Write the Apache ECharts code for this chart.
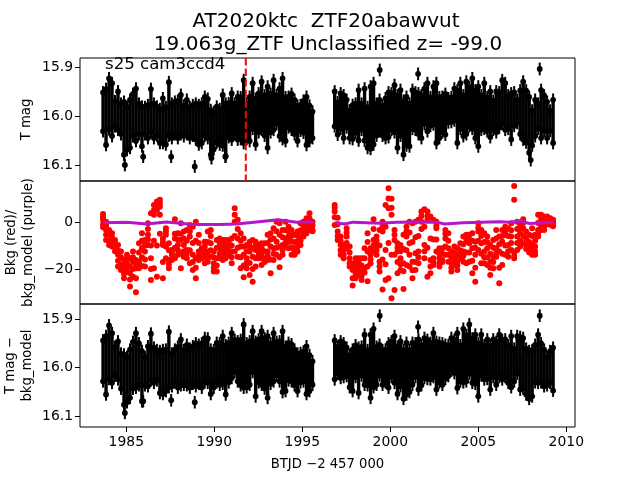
<!DOCTYPE html>
<html><head><meta charset="utf-8">
<style>html,body{margin:0;padding:0;background:#fff}#c{width:640px;height:480px}</style>
<script src="https://cdn.jsdelivr.net/npm/echarts@6/dist/echarts.min.js"></script>
</head><body><div id="c"></div>
<script>
const btjd=[1983.68,1983.85,1984.02,1984.19,1984.36,1984.53,1984.70,1984.87,1985.04,1985.21,1985.38,1985.55,1985.72,1985.89,1986.06,1986.23,1986.40,1986.57,1986.74,1986.91,1987.08,1987.25,1987.42,1987.59,1987.76,1987.93,1988.10,1988.27,1988.44,1988.61,1988.78,1988.95,1989.12,1989.29,1989.46,1989.63,1989.80,1989.97,1990.14,1990.31,1990.48,1990.65,1990.82,1990.99,1991.16,1991.33,1991.50,1991.67,1991.84,1992.01,1992.18,1992.35,1992.52,1992.69,1992.86,1993.03,1993.20,1993.37,1993.54,1993.71,1993.88,1994.05,1994.22,1994.39,1994.56,1994.73,1994.90,1995.07,1995.24,1995.41,1995.58,
1996.84,1997.01,1997.18,1997.35,1997.52,1997.69,1997.86,1998.03,1998.20,1998.37,1998.54,1998.71,1998.88,1999.05,1999.22,1999.39,1999.56,1999.73,1999.90,2000.07,2000.24,2000.41,2000.58,2000.75,2000.92,2001.09,2001.26,2001.43,2001.60,2001.77,2001.94,2002.11,2002.28,2002.45,2002.62,2002.79,2002.96,2003.13,2003.30,2003.47,2003.64,2003.81,2003.98,2004.15,2004.32,2004.49,2004.66,2004.83,2005.00,2005.17,2005.34,2005.51,2005.68,2005.85,2006.02,2006.19,2006.36,2006.53,2006.70,2006.87,2007.04,2007.21,2007.38,2007.55,2007.72,2007.89,2008.06,2008.23,2008.40,2008.57,2008.74,2008.91,2009.08,2009.25];
const tMagHigh=[15.952,15.945,15.923,15.933,15.970,15.950,15.975,15.971,15.982,15.967,15.955,15.944,15.975,15.981,15.982,15.978,15.945,15.975,15.981,15.986,15.964,15.982,15.931,15.975,15.971,15.969,15.957,15.979,15.967,15.982,15.978,15.975,15.978,15.975,15.961,15.965,15.988,15.992,15.981,15.986,15.957,15.975,15.974,15.954,15.975,15.961,15.962,15.927,15.975,15.961,15.933,15.965,15.954,15.930,15.958,15.940,15.955,15.927,15.958,15.944,15.923,15.962,15.961,15.955,15.967,15.979,15.978,15.969,15.961,15.979,15.991,
15.950,15.972,15.954,15.958,15.967,15.989,15.978,15.975,15.947,15.975,15.944,15.982,15.940,15.933,15.975,15.967,15.979,15.964,15.952,15.954,15.937,15.958,15.947,15.969,15.961,15.975,15.947,15.952,15.954,15.958,15.944,15.933,15.962,15.940,15.933,15.962,15.961,15.955,15.964,15.962,15.944,15.948,15.933,15.958,15.930,15.941,15.923,15.948,15.940,15.958,15.933,15.962,15.950,15.969,15.950,15.952,15.927,15.933,15.958,15.954,15.952,15.967,15.948,15.930,15.948,15.961,15.989,15.967,15.975,15.947,15.958,15.971,15.989,15.967];
const tMagLow=[16.031,16.059,16.027,16.041,16.021,16.028,16.037,16.079,16.069,16.065,16.041,16.051,16.037,16.062,16.037,16.045,16.033,16.045,16.040,16.055,16.055,16.058,16.040,16.045,16.037,16.045,16.037,16.041,16.037,16.045,16.040,16.048,16.058,16.055,16.040,16.045,16.079,16.068,16.054,16.058,16.060,16.082,16.043,16.048,16.037,16.048,16.047,16.055,16.047,16.051,16.026,16.058,16.033,16.028,16.040,16.065,16.033,16.028,16.016,16.041,16.047,16.051,16.023,16.028,16.037,16.051,16.030,16.034,16.059,16.051,16.045,
16.021,16.038,16.026,16.045,16.023,16.045,16.047,16.034,16.050,16.028,16.050,16.065,16.067,16.058,16.040,16.031,16.040,16.045,16.043,16.028,16.033,16.065,16.040,16.079,16.060,16.062,16.026,16.028,16.037,16.045,16.016,16.031,16.020,16.017,16.055,16.045,16.033,16.038,16.013,16.012,16.009,16.055,16.026,16.041,16.037,16.021,16.026,16.045,16.062,16.028,16.026,16.031,16.043,16.028,16.033,16.024,16.016,16.028,16.026,16.048,16.020,16.014,16.037,16.048,16.054,16.075,16.060,16.041,16.026,16.045,16.030,16.045,16.030,16.055];
const tMagSoloTime=[1984.92,1985.96,1987.55,1988.89,1989.84,1990.63,1999.40,2001.58,2008.49,2007.98];
const tMagSolo=[16.100,16.083,16.083,16.103,16.086,16.083,15.906,15.914,15.904,16.090];
const detHigh=[15.944,15.935,15.913,15.929,15.957,15.946,15.971,15.973,15.978,15.963,15.947,15.929,15.950,15.966,15.978,15.956,15.930,15.959,15.964,15.966,15.964,15.963,15.926,15.971,15.963,15.957,15.942,15.964,15.953,15.961,15.956,15.950,15.953,15.950,15.939,15.940,15.963,15.964,15.949,15.950,15.935,15.954,15.949,15.929,15.943,15.946,15.943,15.911,15.950,15.946,15.925,15.947,15.942,15.925,15.940,15.935,15.950,15.929,15.947,15.946,15.925,15.957,15.949,15.952,15.963,15.971,15.970,15.967,15.956,15.974,15.987,
15.944,15.957,15.946,15.950,15.959,15.974,15.963,15.954,15.959,15.957,15.932,15.964,15.932,15.920,15.957,15.953,15.964,15.963,15.950,15.946,15.935,15.957,15.946,15.964,15.949,15.964,15.949,15.950,15.942,15.954,15.939,15.943,15.949,15.929,15.947,15.949,15.950,15.953,15.954,15.939,15.943,15.929,15.954,15.920,15.933,15.911,15.940,15.932,15.950,15.932,15.954,15.942,15.954,15.942,15.947,15.932,15.943,15.942,15.954,15.935,15.961,15.935,15.937,15.939,15.961,15.966,15.964,15.953,15.932,15.950,15.963,15.978,15.966,15.959];
const detLow=[16.028,16.055,16.023,16.031,16.016,16.024,16.043,16.076,16.071,16.062,16.043,16.041,16.036,16.069,16.036,16.038,16.026,16.031,16.026,16.052,16.054,16.048,16.040,16.038,16.030,16.041,16.036,16.035,16.036,16.041,16.033,16.038,16.033,16.041,16.030,16.031,16.054,16.041,16.030,16.035,16.033,16.055,16.030,16.021,16.009,16.028,16.036,16.041,16.040,16.035,16.009,16.059,16.030,16.035,16.043,16.062,16.033,16.028,16.016,16.028,16.050,16.048,16.026,16.028,16.036,16.048,16.030,16.028,16.054,16.048,16.035,
16.024,16.012,16.021,16.019,16.017,16.040,16.048,16.019,16.052,16.016,16.035,16.036,16.062,16.040,16.035,16.016,16.035,16.030,16.041,16.019,16.031,16.054,16.038,16.064,16.055,16.050,16.035,16.019,16.045,16.036,16.021,16.023,16.024,16.019,16.045,16.030,16.035,16.023,16.017,16.006,16.011,16.042,16.028,16.030,16.028,16.012,16.031,16.033,16.059,16.016,16.024,16.023,16.045,16.019,16.035,16.019,16.024,16.019,16.031,16.040,16.028,16.012,16.045,16.043,16.055,16.064,16.059,16.030,16.031,16.030,16.038,16.036,16.031,16.047];
const detSoloTime=[1984.92,1985.96,1987.55,1988.89,1999.40,2001.58,2008.49];
const detSolo=[16.093,16.069,16.067,16.071,15.893,15.916,15.893];
const bkgUpper=[3.4,.1,-3.4,-4.8,-7.7,-9.8,-12.6,-16.2,-14,-15.5,-12.6,-16.2,-9.1,-4.8,-7.7,-.6,3.7,7.2,8.7,9.4,-7,-2.7,-9.1,-11.9,1.1,-4.8,-.6,-4.1,-3.4,-1.3,-2,.1,-5.5,-11.2,-8.4,-4.1,-3.4,-12.6,-7.7,-7,-7.7,-7.7,-7.7,-7,5.8,.9,-4.8,-7,-9.8,-8.4,-7.7,-8.4,-9.8,-9.1,-9.1,-5.5,-4.8,-2.7,.1,-.6,-3.4,.1,-2,-3.4,-5.5,-4.1,-.6,.1,1.6,3.7,.1,
7.2,1.8,-6.2,-9.8,-2.7,-10.5,-17.6,-15.5,-15.5,-15.5,-11.2,-4.8,-11.2,1.1,-6.2,-3.4,.1,7.2,14.3,9.8,-3.4,-9.1,-9.8,-5.5,-2,.1,-.6,.1,.9,4.4,5.4,4.4,2.3,.9,.1,-11.2,-11.2,-3.4,-4.8,-12.6,-10.5,-11.2,-9.1,-6.2,-5.5,-5.5,-4.8,-8.4,-.6,-3.4,-4.8,-6.2,-9.8,-7.7,-3.4,-6.2,-3.4,-2,-2.7,-.6,15.3,.1,-1.3,1.1,-4.1,-5.5,-2.7,-5.5,3,3,2.3,2.3,1.6,.9];
const bkgCoreA=[2,-1.5,-4.5,-6.5,-9,-12,-15,-18,-15.5,-19,-15,-18,-13,-8,-10,-3,-10,5,7,8,-8.5,-4,-12,-14,-5,-7.5,-5,-7,-8,-4,-9,-8,-9,-13,-10.5,-8.5,-6,-15,-11,-9,-10,-9.5,-9,-10,3,-3,-8,-10.5,-12.5,-10.5,-11,-10,-12,-11,-12.5,-9,-7.5,-7,-4,-5.5,-6.5,-3.5,-4,-6,-8.5,-6,-3.5,-1.5,0,1.5,-1.5,
6,-1,-8,-12,-4.5,-13,-19,-17.5,-17,-18.5,-15.5,-8.5,-12.5,-3,-8,-10,-2,-2,10,6,-5.5,-11,-12.5,-11.5,-4,-4.5,-8.5,-6.5,-6,2.5,-2,2.5,-7,-7.5,-1.5,-13.5,-13.5,-5,-8,-15,-13,-14,-12,-9.5,-7,-7.5,-8,-11,-2.5,-6,-8.5,-8.5,-13.5,-11,-7,-9.5,-6,-4,-6,-3.5,-13,-3,-3,-.5,-7,-8.5,-6,-8,-.5,1.5,1,1.2,.5,0];
const bkgMiddle=[.9,-3.4,-5.5,-7.7,-10.5,-14,-18.3,-19.7,-17.6,-21.8,-16.9,-19.7,-16.9,-11.2,-12.6,-5.5,-15.5,3,5.1,6.5,-9.8,-5.5,-16.2,-16.2,-7,-9.8,-7.7,-9.8,-11.9,-6.2,-14,-15.5,-12.6,-15.5,-12.6,-12.6,-9.1,-17.6,-15.5,-11.2,-12.6,-11.2,-10.5,-12.6,.1,-7,-10.5,-14,-15.5,-12.6,-14.8,-11.9,-14,-13.3,-15.5,-12.6,-10.5,-11.2,-8.4,-10.5,-9.8,-7,-6.2,-8.4,-11.2,-8.4,-6.2,-2.7,-2,-.6,-3.4,
4.4,-4.1,-9.8,-14,-6.2,-15.5,-20.4,-19.7,-19,-21.1,-19.7,-12.6,-14,-7.7,-9.8,-16.9,-4.1,-11.9,5.8,3,-7.7,-12.6,-15.5,-17.6,-6.2,-9.1,-16.9,-13.3,-12.6,.1,-9.8,.9,-16.2,-15.5,-2.7,-15.5,-16.2,-7,-11.2,-17.6,-15.5,-16.9,-15.5,-12.6,-8.4,-9.1,-11.2,-14,-4.1,-9.1,-12.6,-11.2,-16.9,-14.8,-11.2,-12.6,-8.4,-5.5,-9.8,-6.2,9.4,-6.2,-4.8,-2.7,-9.8,-11.2,-9.8,-10.5,-3.4,.1,-.6,.1,-.6,-1.3];
const bkgCoreB=[-1,-5.5,-8,-9,-12.5,-16.5,-19.5,-22,-19.5,-24.5,-20,-24,-18,-15,-16,-7.5,-20,-8,-10,-5,-17,-10.5,-18,-13,-11,-12,-13.5,-12.5,-13.5,-12,-17,-19.5,-14.5,-14,-15,-14.5,-12,-19.5,-18.5,-13.5,-14.5,-13.5,-12.5,-15,-6,-11,-15,-18.5,-17.5,-17.5,-20,-15.5,-15.5,-15.5,-17,-14.5,-16,-13.5,-11,-15,-12,-9,-8.5,-11,-12.5,-10.5,-8,-4.5,-3.5,-2,-4,
2,-6,-12,-15.5,-9,-17.5,-24,-22,-21,-23,-21.5,-19,-16,-10,-12,-19,-16,-18,-9,-14,-14,-17,-18,-21,-12,-14,-20.5,-17,-15,-3,-12.5,-11,-19,-17,-7.5,-17.5,-17,-10.5,-14,-19.5,-17,-18.5,-14,-14.5,-13,-13,-16.5,-19.5,-8,-13.5,-15,-15,-19.5,-17,-13,-19.5,-13.5,-10,-12.5,-9,-14.5,-9,-8,-6,-11.5,-13,-12,-12.5,-5,-1.8,-2,-1,-1.2,-1.8];
const bkgLower=[-2.3,-7.7,-9.8,-10.5,null,-19,-20.4,-24,-21.1,-27.5,-23.3,-29.9,-19.7,-18.7,-19,-9.8,-24.7,-19.7,-23.3,3,-24,-15.5,-19.7,null,-15.5,-14,-19.7,-14.8,-15.5,-17.6,-20.4,-24,-16.2,null,-17.6,-16.9,-14.8,-21.1,-21.1,-15.5,-16.2,-15.5,-14,-17.6,-12.6,-14.8,-19.7,-23.5,-19.7,-22.6,-25.4,-19,null,-18.3,null,-16.2,-21.8,-16.2,-14,-19.3,-14,-10.5,-11.2,-14,-14,-12.6,-9.8,-6.2,-4.8,-3.4,null,
-1.3,-7.7,-14,null,-11.2,-19,-27,-24,-22.6,-24.7,null,-25.2,-17.6,-12.6,-14,-21.1,-28.7,-24.7,-24,-32.5,-28.9,-21.8,-20.4,-28.5,-18.3,-19,-24,-20.4,-17.6,null,-15.5,-23.3,-21.8,-18.3,-12.6,-19,null,-14,-16.9,-21.1,-18.3,-20.4,null,-16.9,-17.6,-16.9,-21.8,-25.4,-11.9,-17.6,-17.6,-18.3,-22.6,-19.7,-14.8,-26.1,-18.3,-14,-14.8,-11.9,-15.5,-11.9,-10.5,-9.1,null,null,-14,-14,-6.2,-3.4,-3.4,null,null,null];
const modelTime=[1983.68,1985.01,1986.15,1987.28,1988.80,1990.31,1991.26,1992.40,1993.63,1994.67,1995.62,null,1996.84,1997.41,1997.89,1999.40,2000.35,2001.67,2002.62,2003.09,2004.14,2006.22,2006.79,2007.36,2007.92,2009.25];
const modelValue=[-.3,-.1,-.9,0,-1.1,-1.1,-.9,0,.9,-.1,0,null,-.3,-.9,-.1,-.6,-.1,0,-.1,-.9,-.4,.1,-.1,.4,-.7,-.1];
const eventTime=[1991.79];
const xTicks=[1985,1990,1995,2000,2005,2010];
const magTicks=[15.9,16.0,16.1];
const bkgTicks=[0,-20];
const titleLines=['AT2020ktc  ZTF20abawvut','19.063g_ZTF Unclassified z= -99.0'];
const sectorLabel='s25 cam3ccd4';
const xLabel='BTJD −2 457 000';
const yLabels=['T mag','Bkg (red)/\nbkg_model (purple)','T mag −\nbkg_model'];

const FONT='DejaVu Sans', ERR=0.013;
const chart=echarts.init(document.getElementById('c'),null,{renderer:'canvas'});
const G={left:80,width:495,height:123,containLabel:false,outerBoundsMode:'none'};
const grids=[58,181,304].map(top=>({...G,top,show:true,borderColor:'#000',borderWidth:1,backgroundColor:'transparent'}));
const fmt=d=>v=>String(v).replace('-','−');
const xAxes=[0,1,2].map(i=>({type:'value',gridIndex:i,min:1982.37,max:2010.495,nameMoveOverlap:false,
  splitLine:{show:false},axisLine:{show:false},
  axisTick:{show:i===2,length:5,customValues:xTicks,lineStyle:{color:'#000',width:1}},
  axisLabel:{show:i===2,customValues:xTicks,formatter:v=>String(v),color:'#000',fontFamily:FONT,fontSize:13.9,margin:8},
  name:i===2?xLabel:'',nameLocation:'middle',nameGap:31,nameTextStyle:{color:'#000',fontFamily:FONT,fontSize:13.2}}));
const yAxis=(i,min,max,ticks,inverse,gap,f)=>({type:'value',gridIndex:i,min,max,inverse,nameMoveOverlap:false,
  splitLine:{show:false},axisLine:{show:false},
  axisTick:{show:true,length:5,customValues:ticks,lineStyle:{color:'#000',width:1}},
  axisLabel:{customValues:ticks,formatter:f,color:'#000',fontFamily:FONT,fontSize:13.9,margin:7,padding:[3,0,0,0]},
  name:yLabels[i],nameLocation:'middle',nameRotate:90,nameGap:gap,nameTextStyle:{color:'#000',fontFamily:FONT,fontSize:13.2,lineHeight:17}});
const yAxes=[
  yAxis(0,15.8816,16.1327,magTicks,true,45,v=>v.toFixed(1)),
  yAxis(1,-34.9,17.4,bkgTicks,false,43,fmt()),
  yAxis(2,15.869,16.122,magTicks,true,44,v=>v.toFixed(1))];
function dotWithBar(api,t,y){
  const p=api.coord([t,y]),a=api.coord([t,y-ERR]),b=api.coord([t,y+ERR]);
  return [{type:'circle',shape:{cx:p[0],cy:p[1],r:2.9},style:{fill:'#000'}},
    {type:'line',shape:{x1:p[0],y1:a[1],x2:p[0],y2:b[1]},style:{stroke:'#000',lineWidth:2}}];
}
const massSeries=(i,hi,lo)=>({type:'custom',xAxisIndex:i,yAxisIndex:i,silent:true,animation:false,
  data:btjd.map((t,k)=>[t,hi[k],lo[k]]),
  encode:{x:0,y:[1,2]},
  renderItem:(p,api)=>{
    const t=api.value(0),h=api.value(1),l=api.value(2);
    const a=api.coord([t,h]),b=api.coord([t,l]);
    return {type:'group',children:[
      {type:'line',shape:{x1:a[0],y1:a[1],x2:b[0],y2:b[1]},style:{stroke:'#000',lineWidth:3.4}},
      ...dotWithBar(api,t,h),...dotWithBar(api,t,l)]};
  }});
const soloSeries=(i,ts,ys)=>({type:'custom',xAxisIndex:i,yAxisIndex:i,silent:true,animation:false,
  data:ts.map((t,k)=>[t,ys[k]]),encode:{x:0,y:1},
  renderItem:(p,api)=>({type:'group',children:dotWithBar(api,api.value(0),api.value(1))})});
const redPoints=[];
btjd.forEach((t,k)=>[bkgUpper,bkgCoreA,bkgMiddle,bkgCoreB,bkgLower].forEach(r=>{if(r[k]!==null&&r[k]!==undefined)redPoints.push([t,r[k]]);}));
chart.setOption({animation:false,backgroundColor:'#fff',
  title:titleLines.map((text,i)=>({text,left:i?328:326,top:i?35:12,padding:0,textAlign:'center',
    textStyle:{color:'#000',fontFamily:FONT,fontWeight:'normal',fontSize:20}})),
  grid:grids,xAxis:xAxes,yAxis:yAxes,
  graphic:[{type:'text',left:105,top:56,z:100,style:{text:sectorLabel,fill:'#000',fontFamily:FONT,fontSize:16.6}}],
  series:[
    massSeries(0,tMagHigh,tMagLow),soloSeries(0,tMagSoloTime,tMagSolo),
    {type:'line',xAxisIndex:0,yAxisIndex:0,symbol:'none',silent:true,z:5,
      data:[[eventTime[0],15.8816],[eventTime[0],16.1327]],
      lineStyle:{color:'#ff0000',width:2,type:[7.4,3.2]}},
    {type:'scatter',xAxisIndex:1,yAxisIndex:1,silent:true,symbol:'circle',symbolSize:6,
      data:redPoints,itemStyle:{color:'#ff0000',opacity:1}},
    {type:'line',xAxisIndex:1,yAxisIndex:1,silent:true,symbol:'none',connectNulls:false,z:4,
      data:modelTime.map((t,k)=>[t,modelValue[k]]),
      lineStyle:{color:'#b516c9',width:3}},
    massSeries(2,detHigh,detLow),soloSeries(2,detSoloTime,detSolo)
  ]});
</script></body></html>
